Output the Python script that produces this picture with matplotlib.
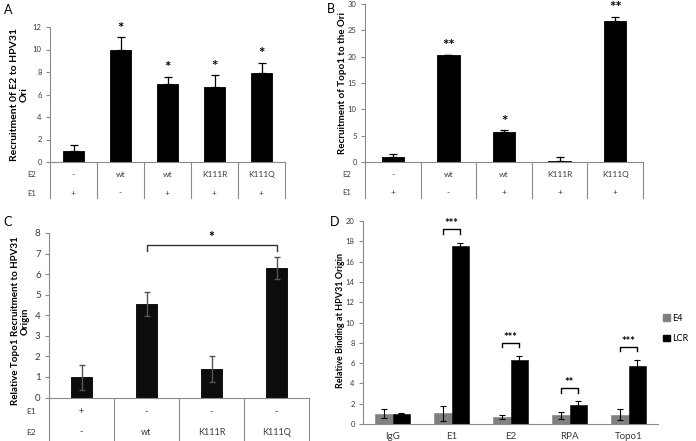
import matplotlib.pyplot as plt
import numpy as np
from matplotlib.patches import Patch

plt.rcParams['font.family'] = ['Lato', 'DejaVu Sans']

AXIS_GREY = "#8a8a8a"
TEXT_GREY = "#3a3a3a"
E4_GREY = "#808080"

# panel A: E2 recruitment to the ori
a_values = [1.0, 10.0, 6.95, 6.65, 7.95]
a_errors = [0.47, 1.1, 0.65, 1.05, 0.88]
a_stars = ["", "*", "*", "*", "*"]
a_e2 = ["-", "wt", "wt", "K111R", "K111Q"]
a_e1 = ["+", "-", "+", "+", "+"]

# panel B: Topo1 recruitment to the ori
b_values = [1.0, 20.3, 5.75, 0.25, 26.8]
b_errors = [0.5, 0.1, 0.3, 0.65, 0.8]
b_stars = ["", "**", "*", "", "**"]
b_e2 = ["-", "wt", "wt", "K111R", "K111Q"]
b_e1 = ["+", "-", "+", "+", "+"]

# panel C: relative Topo1 recruitment
c_values = [0.98, 4.55, 1.38, 6.29]
c_errors = [0.6, 0.6, 0.63, 0.53]
c_e1 = ["+", "-", "-", "-"]
c_e2 = ["-", "wt", "K111R", "K111Q"]

# panel D: binding at HPV31 origin
d_targets = ["IgG", "E1", "E2", "RPA", "Topo1"]
d_e4 = [1.02, 1.05, 0.73, 0.87, 0.93]
d_e4_err = [0.45, 0.72, 0.2, 0.33, 0.57]
d_lcr = [1.02, 17.5, 6.3, 1.9, 5.7]
d_lcr_err = [0.05, 0.38, 0.42, 0.35, 0.62]
d_stars = ["", "***", "***", "**", "***"]

W, H = 696, 441
fig = plt.figure(figsize=(W / 100, H / 100), dpi=100)


def px_axes(left, right, y0, ytop):
    """Axes from pixel coordinates (left, right, y of zero, y of top)."""
    return fig.add_axes([left / W, 1 - y0 / H, (right - left) / W, (y0 - ytop) / H])


def style_axes(ax, ymax, step, tick_size=5.5):
    ax.set_ylim(0, ymax)
    ax.set_yticks(np.arange(0, ymax + 0.01, step))
    for s in ("top", "right"):
        ax.spines[s].set_visible(False)
    for s in ("left", "bottom"):
        ax.spines[s].set_color(AXIS_GREY)
        ax.spines[s].set_linewidth(0.8)
    ax.tick_params(axis="y", direction="out", length=3, width=0.8, color=AXIS_GREY,
                   labelsize=tick_size, labelcolor=TEXT_GREY, pad=3)


def draw_table(ax, rows, names, row_y, bottom, fontsize=6):
    n = len(rows[0])
    ax.set_xlim(-0.5, n - 0.5)
    ax.set_xticks([])
    tr = ax.get_xaxis_transform()
    for yy, row, name in zip(row_y, rows, names):
        for i, v in enumerate(row):
            ax.text(i, yy, v, transform=tr, ha="center", va="center",
                    fontsize=fontsize, color=TEXT_GREY, clip_on=False)
        ax.annotate(name, xy=(0, yy), xycoords="axes fraction", xytext=(-13, 0),
                    textcoords="offset points", ha="center", va="center",
                    fontsize=fontsize - 0.5, color=TEXT_GREY)
    for i in range(n + 1):
        ax.plot([i - 0.5, i - 0.5], [0, bottom], transform=tr, color=AXIS_GREY,
                lw=0.8, clip_on=False)


def stars_above(ax, xs, tops, stars, size=11):
    for x, t, s in zip(xs, tops, stars):
        if s:
            ax.annotate(s, xy=(x, t), xytext=(0, 1), textcoords="offset points",
                        ha="center", va="bottom", fontsize=size, fontweight="bold")


# ---- A ----
axA = px_axes(50, 285, 162, 27)
x = np.arange(len(a_values))
axA.bar(x, a_values, width=0.43, color="black", edgecolor="black", lw=0.6)
axA.errorbar(x, a_values, yerr=[np.zeros(len(x)), a_errors], fmt="none",
             ecolor="black", elinewidth=0.9, capsize=3, capthick=0.9)
style_axes(axA, 12, 2)
draw_table(axA, [a_e2, a_e1], ["E2", "E1"], [-0.096, -0.23], -0.267)
stars_above(axA, x, np.add(a_values, a_errors), a_stars)
axA.set_ylabel("Recruitment 0f E2 to HPV31\nOri", fontsize=7.5, fontweight="bold",
               linespacing=1.1)
axA.yaxis.set_label_coords(-0.092, 0.5)
fig.text(4 / W, 1 - 10 / H, "A", fontsize=9, va="center")

# ---- B ----
axB = px_axes(365, 643, 162, 4)
x = np.arange(len(b_values))
axB.bar(x, b_values, width=0.4, color="black", edgecolor="black", lw=0.6)
axB.errorbar(x, b_values, yerr=[np.zeros(len(x)), b_errors], fmt="none",
             ecolor="black", elinewidth=0.9, capsize=3, capthick=0.9)
style_axes(axB, 30, 5)
draw_table(axB, [b_e2, b_e1], ["E2", "E1"], [-0.082, -0.196], -0.228)
stars_above(axB, x, np.add(b_values, b_errors), b_stars)
axB.set_ylabel("Recruitment of Topo1 to the Ori", fontsize=7, fontweight="bold")
axB.yaxis.set_label_coords(-0.066, 0.5)
fig.text(327 / W, 1 - 9 / H, "B", fontsize=9, va="center")

# ---- C ----
axC = px_axes(49, 309, 397.5, 233)
x = np.arange(len(c_values))
axC.bar(x, c_values, width=0.31, color="#0d0d0d", edgecolor="black", lw=0.6)
axC.errorbar(x, c_values, yerr=c_errors, fmt="none", ecolor="#555555",
             elinewidth=1.0, capsize=2.5, capthick=1.0)
style_axes(axC, 8, 1, tick_size=7)
draw_table(axC, [c_e1, c_e2], ["E1", "E2"], [-0.088, -0.21], -0.27, fontsize=6.5)
yb = max(np.add(c_values, c_errors)) + 0.62
axC.plot([1, 1, 3, 3], [yb - 0.3, yb, yb, yb - 0.3], color="#333333", lw=1.0)
axC.annotate("*", xy=(2, yb), xytext=(0, 1), textcoords="offset points",
             ha="center", va="bottom", fontsize=10, fontweight="bold")
axC.set_ylabel("Relative Topo1 Recruitment to HPV31\nOrigin", fontsize=7,
               fontweight="bold", linespacing=1.1)
axC.yaxis.set_label_coords(-0.075, 0.465)
fig.text(3 / W, 1 - 222 / H, "C", fontsize=9, va="center")

# ---- D ----
axD = px_axes(363, 658, 424, 221)
x = np.arange(len(d_targets))
bw = 0.29
axD.bar(x - bw / 2, d_e4, width=bw, color=E4_GREY, edgecolor=E4_GREY, lw=0.4,
        label="E4")
axD.bar(x + bw / 2, d_lcr, width=bw, color="black", edgecolor="black", lw=0.4,
        label="LCR")
axD.errorbar(x - bw / 2, d_e4, yerr=d_e4_err, fmt="none", ecolor="black",
             elinewidth=0.8, capsize=2, capthick=0.8)
axD.errorbar(x + bw / 2, d_lcr, yerr=d_lcr_err, fmt="none", ecolor="black",
             elinewidth=0.8, capsize=2, capthick=0.8)
style_axes(axD, 20, 2)
axD.set_xlim(-0.5, len(d_targets) - 0.5)
axD.set_xticks(x)
axD.set_xticklabels(d_targets)
axD.tick_params(axis="x", length=0, pad=6, labelsize=7, labelcolor=TEXT_GREY)
for i, s in enumerate(d_stars):
    if not s:
        continue
    top = max(d_e4[i] + d_e4_err[i], d_lcr[i] + d_lcr_err[i])
    yb = top + 1.3
    axD.plot([i - bw / 2, i - bw / 2, i + bw / 2, i + bw / 2],
             [yb - 0.45, yb, yb, yb - 0.45], color="black", lw=1.0)
    axD.annotate(s, xy=(i, yb), xytext=(0, 0), textcoords="offset points",
                 ha="center", va="bottom", fontsize=8, fontweight="bold")
axD.legend(handles=[Patch(color=E4_GREY, label="E4"), Patch(color="black", label="LCR")],
           loc="center left", bbox_to_anchor=(1.0, 0.47), frameon=False,
           fontsize=6.5, handlelength=0.7, handleheight=0.7, handletextpad=0.3,
           labelspacing=1.3, borderaxespad=0.2)
axD.set_ylabel("Relative Binding at HPV31 Origin", fontsize=6.5, fontweight="bold")
axD.yaxis.set_label_coords(-0.062, 0.51)
fig.text(330 / W, 1 - 222 / H, "D", fontsize=9, va="center")

fig.savefig("out.png", dpi=100)
